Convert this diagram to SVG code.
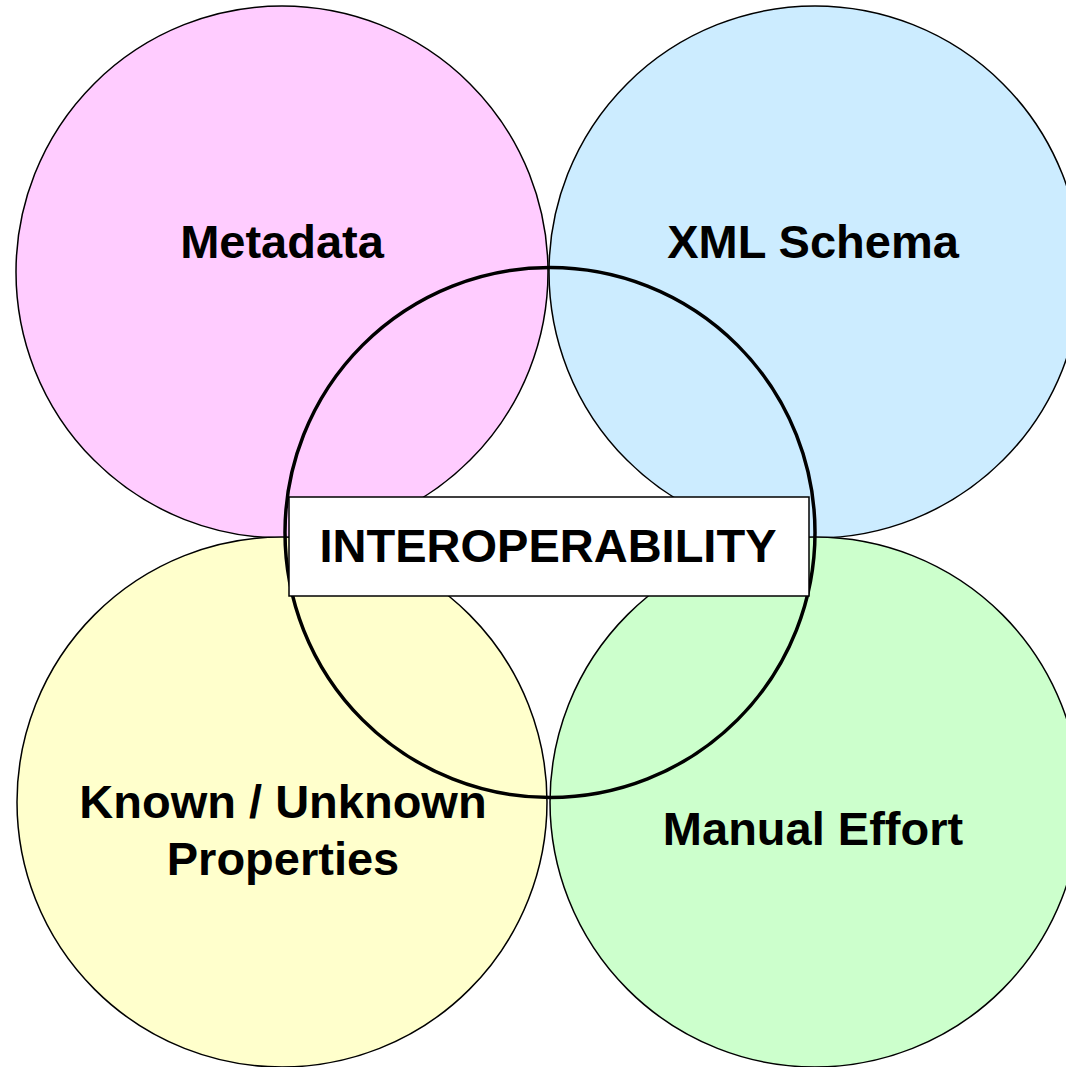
<svg xmlns="http://www.w3.org/2000/svg" width="1066" height="1067" viewBox="0 0 1066 1067">
<style>
.c{stroke:#000;stroke-width:1.5}
.t{font-family:"Liberation Sans",Arial,sans-serif;font-weight:bold;font-size:47px;text-anchor:middle;fill:#000}
</style>
<rect width="1066" height="1067" fill="#fff"/>
<g id="metadata"><circle class="c" cx="282" cy="272" r="266" fill="#FFCCFF"/><text class="t" x="282" y="258">Metadata</text></g>
<g id="xml-schema"><circle class="c" cx="815" cy="272" r="266" fill="#CCECFF"/><text class="t" x="813" y="258">XML Schema</text></g>
<g id="known-unknown"><circle class="c" cx="282" cy="802" r="265" fill="#FFFFCC"/><text class="t" x="283" y="818">Known / Unknown</text><text class="t" x="283" y="875">Properties</text></g>
<g id="manual-effort"><circle class="c" cx="815" cy="802" r="265" fill="#CCFFCC"/><text class="t" x="813" y="845">Manual Effort</text></g>
<g id="interoperability">
<circle cx="550" cy="532.5" r="265" fill="none" stroke="#000" stroke-width="3.5"/>
<rect x="289" y="497" width="520" height="99" fill="#fff" stroke="#000" stroke-width="1.5"/>
<text class="t" x="548" y="562">INTEROPERABILITY</text>
</g>
<g id="connectors"/>
</svg>
